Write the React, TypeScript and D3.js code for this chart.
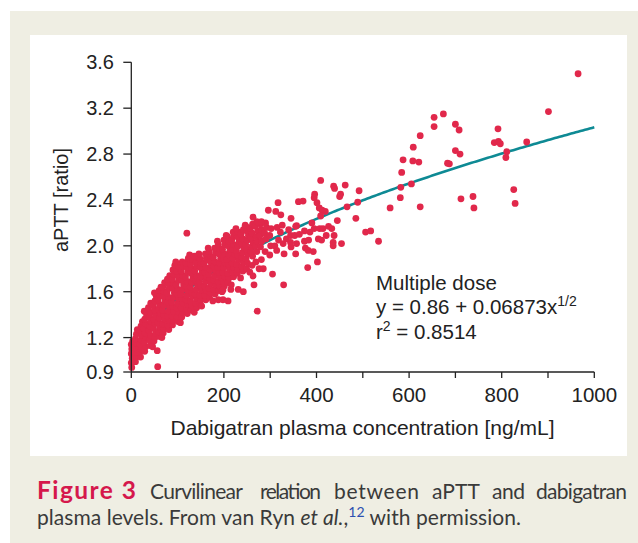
import React from "react";
import * as d3 from "d3";

// ---------- data ----------
const yTicks = [0.9, 1.2, 1.6, 2.0, 2.4, 2.8, 3.2, 3.6];
const yTickLabels = ["0.9", "1.2", "1.6", "2.0", "2.4", "2.8", "3.2", "3.6"];
const xTicks = [0, 200, 400, 600, 800, 1000];
const xTickLabels = ["0", "200", "400", "600", "800", "1000"];
const xMinorTicks = [100, 300, 500, 700, 900];

const fitIntercept = 0.86;
const fitSlope = 0.06873;

// dense cluster read column by column (x in ng/mL, y ratio)
const cluster: [number, number][] = [
  [1, 0.94], [0, 0.98], [2, 1.02], [0, 1.06], [1, 1.1], [0, 1.14], [3, 1.17],
  [9, 0.99], [11, 1.03], [8, 1.07], [10, 1.11], [12, 1.15], [9, 1.19], [11, 1.23], [13, 1.27],
  [20, 1.03], [18, 1.07], [22, 1.1], [19, 1.14], [21, 1.18], [23, 1.22], [19, 1.26], [21, 1.3], [24, 1.34],
  [29, 1.08], [31, 1.12], [28, 1.16], [32, 1.2], [30, 1.24], [27, 1.28], [31, 1.32], [29, 1.36], [33, 1.4], [28, 1.43],
  [41, 1.13], [39, 1.18], [42, 1.22], [38, 1.26], [40, 1.3], [43, 1.34], [39, 1.38], [41, 1.42], [37, 1.46], [42, 1.5],
  [49, 1.17], [51, 1.2], [53, 1.24], [48, 1.28], [51, 1.32], [49, 1.36], [52, 1.4], [50, 1.44], [47, 1.48], [51, 1.52], [54, 1.56], [50, 1.59],
  [61, 1.21], [59, 1.25], [62, 1.29], [58, 1.33], [61, 1.37], [63, 1.41], [59, 1.45], [61, 1.49], [58, 1.53], [62, 1.57], [60, 1.61], [64, 1.64],
  [69, 1.24], [71, 1.28], [68, 1.32], [72, 1.36], [70, 1.4], [67, 1.44], [71, 1.48], [73, 1.52], [69, 1.56], [71, 1.6], [68, 1.64], [72, 1.68],
  [81, 1.27], [79, 1.31], [82, 1.35], [78, 1.39], [80, 1.43], [83, 1.47], [79, 1.51], [81, 1.55], [77, 1.59], [82, 1.63], [80, 1.67], [78, 1.71], [83, 1.74],
  [89, 1.31], [91, 1.35], [88, 1.39], [92, 1.43], [90, 1.47], [87, 1.51], [91, 1.55], [93, 1.59], [89, 1.63], [91, 1.67], [88, 1.71], [92, 1.75], [90, 1.79], [94, 1.83],
  [101, 1.34], [99, 1.38], [102, 1.42], [98, 1.46], [100, 1.5], [103, 1.54], [99, 1.58], [101, 1.62], [97, 1.66], [102, 1.7], [100, 1.74], [98, 1.78], [103, 1.82],
  [109, 1.38], [111, 1.42], [108, 1.46], [112, 1.5], [110, 1.54], [107, 1.58], [111, 1.62], [113, 1.66], [109, 1.7], [111, 1.74], [108, 1.78], [112, 1.82], [110, 1.86],
  [121, 1.41], [119, 1.45], [122, 1.49], [118, 1.53], [120, 1.57], [123, 1.61], [119, 1.65], [121, 1.69], [117, 1.73], [122, 1.77], [120, 1.81], [118, 1.85], [123, 1.89],
  [129, 1.44], [131, 1.48], [128, 1.52], [132, 1.56], [130, 1.6], [127, 1.64], [131, 1.68], [133, 1.72], [129, 1.76], [131, 1.8], [128, 1.84], [132, 1.88],
  [141, 1.46], [139, 1.5], [142, 1.54], [138, 1.58], [140, 1.62], [143, 1.66], [139, 1.7], [141, 1.74], [137, 1.78], [142, 1.82], [140, 1.86], [144, 1.9],
  [149, 1.49], [151, 1.53], [148, 1.57], [152, 1.61], [150, 1.65], [147, 1.69], [151, 1.73], [153, 1.77], [149, 1.81], [151, 1.85], [148, 1.89],
  [161, 1.53], [159, 1.57], [162, 1.61], [158, 1.65], [160, 1.69], [163, 1.73], [159, 1.77], [161, 1.81], [157, 1.85], [162, 1.89], [160, 1.93],
  [169, 1.55], [171, 1.59], [168, 1.63], [172, 1.67], [170, 1.71], [167, 1.75], [171, 1.79], [173, 1.83], [169, 1.87], [171, 1.91], [168, 1.95],
  [181, 1.58], [179, 1.62], [182, 1.66], [178, 1.7], [180, 1.74], [183, 1.78], [179, 1.82], [181, 1.86], [177, 1.9], [182, 1.94], [180, 1.98],
  [189, 1.61], [191, 1.65], [188, 1.69], [192, 1.73], [190, 1.77], [187, 1.81], [191, 1.85], [193, 1.89], [189, 1.93], [191, 1.97], [188, 2.01],
  [201, 1.65], [199, 1.69], [202, 1.73], [198, 1.77], [200, 1.81], [203, 1.85], [199, 1.89], [201, 1.93], [197, 1.97], [202, 2.01], [200, 2.05],
  [209, 1.68], [211, 1.72], [208, 1.76], [212, 1.8], [210, 1.84], [207, 1.88], [211, 1.92], [213, 1.96], [209, 2.0], [211, 2.04], [208, 2.08],
  [221, 1.73], [219, 1.77], [222, 1.81], [218, 1.85], [220, 1.89], [223, 1.93], [219, 1.97], [221, 2.01], [217, 2.05], [222, 2.09], [220, 2.12],
  [229, 1.76], [231, 1.8], [228, 1.84], [232, 1.88], [230, 1.92], [227, 1.96], [231, 2.0], [233, 2.04], [229, 2.08], [231, 2.12],
  [241, 1.78], [239, 1.82], [242, 1.86], [238, 1.9], [240, 1.94], [243, 1.98], [239, 2.02], [241, 2.06], [237, 2.1], [242, 2.14],
  [249, 1.8], [251, 1.85], [248, 1.89], [252, 1.93], [250, 1.97], [247, 2.01], [251, 2.05], [253, 2.09], [249, 2.13], [251, 2.16],
  [261, 1.83], [262, 1.91], [258, 1.95], [260, 1.99], [263, 2.03], [259, 2.07], [261, 2.11], [257, 2.15], [262, 2.19],
  [269, 1.86], [271, 1.95], [268, 2.0], [272, 2.04], [270, 2.08], [273, 2.13], [268, 2.17], [271, 2.21],
  [281, 1.88], [279, 1.99], [282, 2.04], [278, 2.09], [281, 2.14], [279, 2.19],
  [289, 1.95], [291, 2.06], [288, 2.11], [292, 2.16], [290, 2.2],
  [301, 2.0], [299, 2.09], [302, 2.15],
  [310, 2.0], [318, 2.05], [322, 2.12], [335, 2.06], [340, 2.14], [315, 2.16], [328, 2.02], [345, 1.99],
  // ragged upper edge
  [96, 1.86], [126, 1.92], [146, 1.93], [166, 1.98], [186, 2.04], [205, 2.09], [226, 2.15], [246, 2.18], [136, 1.91],
  // ragged lower edge
  [66, 1.2], [106, 1.33], [136, 1.42], [176, 1.52], [196, 1.6], [216, 1.66], [236, 1.72], [256, 1.77], [276, 1.8], [46, 1.12],
];

// individually readable points
const scatter: [number, number][] = [
  [965, 3.5], [901, 3.17], [674, 3.15], [654, 3.12], [654, 3.04], [700, 3.06], [708, 3.01], [624, 2.96],
  [792, 3.02], [784, 2.9], [793, 2.91], [797, 2.89], [854, 2.905], [811, 2.82], [809, 2.77], [609, 2.86],
  [587, 2.75], [608, 2.74], [621, 2.73], [700, 2.83], [710, 2.8], [683, 2.72], [687, 2.715], [584, 2.64],
  [605, 2.54], [582, 2.51], [581, 2.42], [624, 2.34], [712, 2.41], [738, 2.43], [740, 2.33], [826, 2.49], [829, 2.37],
  [409, 2.57], [437, 2.52], [439, 2.5], [462, 2.53], [492, 2.48], [452, 2.45], [450, 2.43], [396, 2.45],
  [395, 2.42], [361, 2.385], [371, 2.39], [401, 2.376], [406, 2.33], [489, 2.38], [466, 2.34], [412, 2.31],
  [419, 2.3], [409, 2.26], [445, 2.22], [485, 2.24], [345, 2.24], [357, 2.175], [390, 2.2], [395, 2.15],
  [407, 2.15], [414, 2.15], [426, 2.17], [433, 2.15], [386, 2.12], [374, 2.13], [344, 2.09], [353, 2.09],
  [363, 2.1], [421, 2.09], [438, 2.09], [404, 2.06], [411, 2.05], [374, 2.04], [383, 2.05], [436, 2.03],
  [454, 2.02], [344, 2.03], [357, 2.02], [436, 2.0], [376, 1.98], [382, 1.96], [355, 1.93], [393, 1.95],
  [506, 2.12], [517, 2.13], [534, 2.04], [559, 2.33], [402, 1.86], [381, 1.81],
  [56, 1.086], [57, 0.946], [263, 1.737], [305, 1.754], [329, 1.66], [285, 1.8], [265, 1.66], [272, 1.43],
  [198, 1.615], [215, 1.62], [231, 1.62], [242, 1.6], [188, 1.53], [198, 1.53], [209, 1.52], [152, 1.475],
  [299, 1.92], [314, 1.96], [330, 1.93], [317, 2.376], [296, 2.31], [312, 2.3], [323, 2.27], [263, 2.25],
  [274, 2.205], [281, 2.21], [326, 2.18], [355, 2.17], [120, 2.11],
];

// ---------- layout ----------
const W = 638;
const H = 543;
const RED = "#e1284b";
const TEAL = "#0e8a94";
const TEXT = "#222";

export default function App() {
  const x = d3.scaleLinear().domain([0, 1000]).range([131.3, 594.3]);
  const y = d3.scaleLinear().domain([0.9, 3.6]).range([372, 62.3]);

  const fitXs = d3.range(10, 1000.1, 5);
  const line = d3
    .line<number>()
    .x((d) => x(d))
    .y((d) => y(fitIntercept + fitSlope * Math.sqrt(d)));

  const allPts = [...cluster, ...scatter];
  const font = "'Liberation Sans', Arial, Helvetica, sans-serif";
  const capFont = "Lato, 'Open Sans', sans-serif";

  return (
    <svg
      width={W}
      height={H}
      style={{ position: "absolute", left: 0, top: 0, display: "block" }}
    >
      <rect x={0} y={0} width={W} height={H} fill="#fff" />
      <rect x={10} y={11} width={W - 10} height={H - 11} fill="#efeee3" />
      <rect x={30} y={35} width={597} height={421} fill="#fff" />

      {/* fit line */}
      <path d={line(fitXs) || ""} fill="none" stroke={TEAL} strokeWidth={2.6} />

      {/* points */}
      <g fill={RED}>
        {allPts.map((p, i) => (
          <circle key={i} cx={x(p[0])} cy={y(p[1])} r={3.4} />
        ))}
      </g>

      {/* axes */}
      <g stroke={TEXT} strokeWidth={1.3} fill="none">
        <line x1={x(0)} x2={x(0)} y1={y(0.9)} y2={y(3.6)} />
        <line x1={x(0)} x2={x(1000)} y1={y(0.9)} y2={y(0.9)} />
        {yTicks.map((t) => (
          <line key={"yt" + t} x1={x(0) - 8} x2={x(0)} y1={y(t)} y2={y(t)} />
        ))}
        {[...xTicks, ...xMinorTicks].map((t) => (
          <line key={"xt" + t} x1={x(t)} x2={x(t)} y1={y(0.9)} y2={y(0.9) + 6} />
        ))}
      </g>

      <g fontFamily={font} fill={TEXT}>
        {yTicks.map((t, i) => (
          <text key={"yl" + t} x={114} y={y(t) + 7} fontSize={20} textAnchor="end">
            {yTickLabels[i]}
          </text>
        ))}
        {xTicks.map((t, i) => (
          <text key={"xl" + t} x={x(t)} y={402} fontSize={20.5} textAnchor="middle">
            {xTickLabels[i]}
          </text>
        ))}
        <text x={362.5} y={435} fontSize={21} textAnchor="middle">
          Dabigatran plasma concentration [ng/mL]
        </text>
        <text
          transform="translate(68,200) rotate(-90)"
          fontSize={20}
          textAnchor="middle"
        >
          aPTT [ratio]
        </text>

        {/* annotation */}
        <text x={376} y={289.5} fontSize={20.5}>Multiple dose</text>
        <text x={376} y={313.5} fontSize={20.5}>
          y = 0.86 + 0.06873x
          <tspan fontSize={14} dy={-8}>1/2</tspan>
        </text>
        <text x={376} y={338.5} fontSize={20.5}>
          r<tspan fontSize={14} dy={-8}>2</tspan>
          <tspan dy={8}> = 0.8514</tspan>
        </text>
      </g>

      {/* caption */}
      <g fontFamily={capFont} fontSize={21} fill="#3a3a3a">
        <text x={37} y={499} fontWeight="bold" fontSize={24.5} fill="#d5184c" textLength={99} lengthAdjust="spacing">
          Figure 3
        </text>
        <text x={150} y={499} textLength={93} lengthAdjust="spacing">Curvilinear</text>
        <text x={260} y={499} textLength={61} lengthAdjust="spacing">relation</text>
        <text x={334} y={499} textLength={85} lengthAdjust="spacing">between</text>
        <text x={432} y={499} textLength={48} lengthAdjust="spacing">aPTT</text>
        <text x={492} y={499} textLength={33} lengthAdjust="spacing">and</text>
        <text x={536} y={499} textLength={91} lengthAdjust="spacing">dabigatran</text>
        <text x={37} y={525} textLength={484} lengthAdjust="spacing">
          plasma levels. From van Ryn <tspan fontStyle="italic">et al.</tspan>,
          <tspan fontSize={14} dy={-8} fill="#2c4fb0">12</tspan>
          <tspan dy={8}> with permission.</tspan>
        </text>
      </g>
    </svg>
  );
}
